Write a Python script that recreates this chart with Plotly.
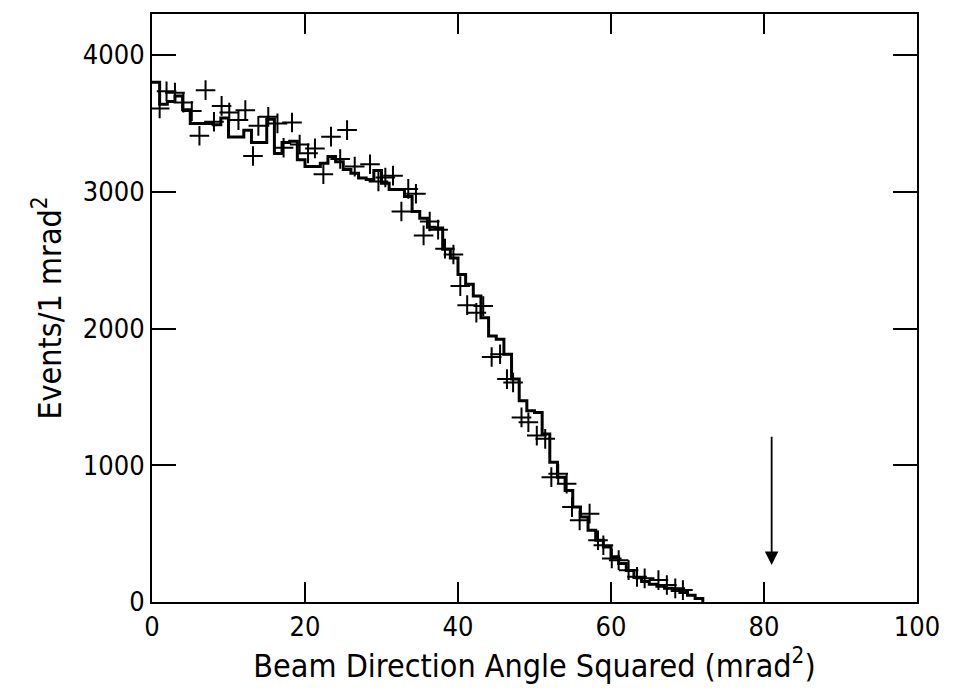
import plotly.graph_objects as go

# Simulated histogram: 1 mrad^2 bins starting at these left edges
bin_left = list(range(0, 72))
hist_counts = [3800, 3640, 3660, 3700, 3600, 3500, 3500, 3500, 3490, 3540,
               3400, 3400, 3450, 3360, 3360, 3530, 3280, 3360, 3370, 3235,
               3184, 3184, 3208, 3257, 3220, 3162, 3135, 3100, 3089, 3155,
               3062, 3016, 3016, 2965, 2856, 2807, 2740, 2735, 2580, 2516,
               2395, 2324, 2237, 2079, 1945, 1921, 1812, 1630, 1471, 1399,
               1386, 1229, 1022, 913, 816, 694, 622, 525, 452, 403,
               330, 282, 230, 180, 150, 130, 115, 100, 85, 70,
               50, 25]
hist_end = 72

# Measured data points (crosses)
data_x = [1.0, 1.9, 3.0, 4.1, 5.2, 6.2, 7.0, 8.1, 9.1, 10.1,
          11.3, 12.2, 13.2, 13.9, 15.2, 16.4, 17.2, 18.3, 19.3, 20.4,
          21.3, 22.4, 23.4, 24.6, 25.5, 26.5, 28.5, 29.6, 30.5, 31.5,
          32.6, 33.5, 34.5, 35.5, 36.3, 37.4, 38.3, 39.4, 40.3, 41.2,
          42.4, 43.3, 44.4, 45.5, 46.4, 47.2, 48.3, 49.2, 50.3, 51.4,
          52.2, 53.1, 54.2, 54.9, 55.9, 57.2, 58.3, 59.0, 60.1, 61.0,
          62.3, 63.4, 64.4, 66.2, 67.3, 68.4, 69.4]
data_y = [3609, 3735, 3725, 3652, 3590, 3410, 3743, 3512, 3628, 3580,
          3524, 3597, 3262, 3482, 3548, 3500, 3322, 3507, 3346, 3281,
          3317, 3128, 3403, 3240, 3451, 3184, 3201, 3075, 3104, 3118,
          2856, 3021, 2985, 2681, 2783, 2723, 2584, 2541, 2310, 2171,
          2115, 2164, 1792, 1812, 1630, 1605, 1350, 1314, 1217, 1193,
          913, 938, 865, 694, 597, 646, 452, 415, 318, 306,
          233, 184, 173, 160, 124, 100, 87]

# Cut arrow
cut_x = 81
arrow_top = 1220
arrow_tip = 270

x_ticks = [0, 20, 40, 60, 80, 100]
y_ticks = [0, 1000, 2000, 3000, 4000]

FONT = "DejaVu Sans Condensed, DejaVu Sans"

fig = go.Figure()

hx = bin_left + [hist_end]
hy = hist_counts + [0]
fig.add_trace(go.Scatter(x=hx, y=hy, mode="lines", line_shape="hv",
                         line=dict(color="black", width=3),
                         showlegend=False, hoverinfo="skip"))

fig.add_trace(go.Scatter(x=data_x, y=data_y, mode="markers",
                         marker=dict(symbol="cross-thin", size=14,
                                     line=dict(color="black", width=2)),
                         showlegend=False))

fig.add_annotation(x=cut_x, y=arrow_tip, ax=cut_x, ay=arrow_top,
                   xref="x", yref="y", axref="x", ayref="y",
                   showarrow=True, arrowhead=2, arrowsize=1.5,
                   arrowwidth=1.8, arrowcolor="black", text="")

fig.update_xaxes(range=[0, 100], tickvals=x_ticks,
                 ticktext=[str(v) for v in x_ticks],
                 ticks="inside", ticklen=20, tickwidth=1.5, tickcolor="black",
                 showline=True, linecolor="black", linewidth=2, mirror="ticks",
                 showgrid=False, zeroline=False,
                 tickfont=dict(family=FONT, size=27, color="black"),
                 title=dict(text="Beam Direction Angle Squared (mrad<sup>2</sup>)",
                            font=dict(family=FONT, size=32, color="black"),
                            standoff=6))
fig.update_yaxes(range=[0, 4300], tickvals=y_ticks,
                 ticktext=[str(v) for v in y_ticks],
                 ticks="inside", ticklen=24, tickwidth=1.5, tickcolor="black",
                 showline=True, linecolor="black", linewidth=2, mirror="ticks",
                 showgrid=False, zeroline=False,
                 tickfont=dict(family=FONT, size=27, color="black"),
                 title=dict(text="Events/1 mrad<sup>2</sup>",
                            font=dict(family=FONT, size=32, color="black"),
                            standoff=12))

fig.update_layout(width=960, height=694,
                  margin=dict(l=152, r=43, t=12, b=92),
                  paper_bgcolor="white", plot_bgcolor="white")

fig.write_html("out.html")
